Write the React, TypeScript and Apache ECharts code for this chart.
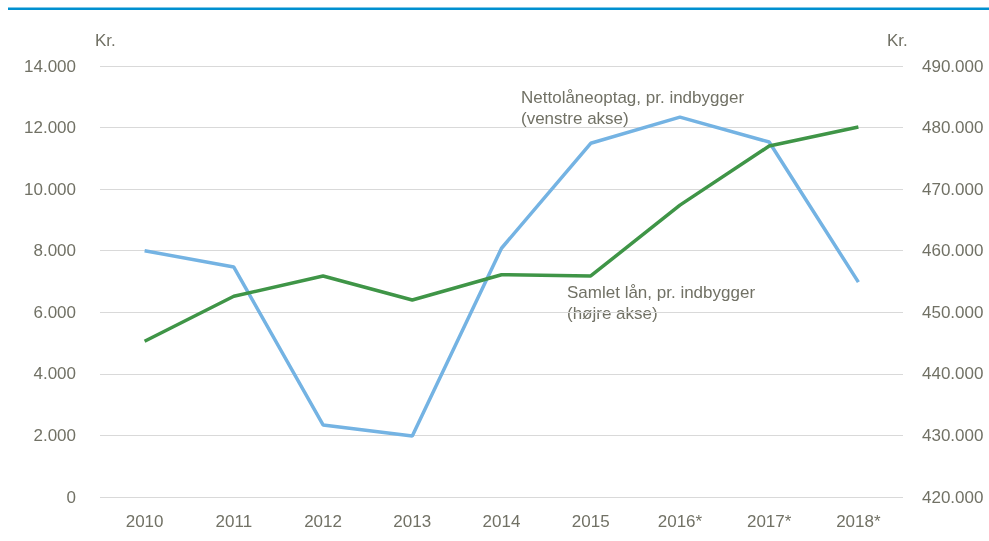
import React, { useEffect, useRef } from "react";
import * as echarts from "echarts";

const categories = ["2010", "2011", "2012", "2013", "2014", "2015", "2016*", "2017*", "2018*"];
const nettoLaaneoptag = [8000, 7470, 2340, 1980, 8080, 11490, 12340, 11530, 6980];
const samletLaan = [445300, 452600, 455900, 452000, 456100, 455900, 467400, 477000, 480100];

const TEXT = "#717165";
const FONT = "'Liberation Sans', Arial, sans-serif";

const fmt = (v: number) => {
  const s = Math.round(v).toString();
  return s.replace(/\B(?=(\d{3})+(?!\d))/g, ".");
};

export default function App() {
  const ref = useRef<HTMLDivElement>(null);
  useEffect(() => {
    if (!ref.current) return;
    const chart = echarts.init(ref.current, null, { renderer: "svg" });
    chart.setOption({
      animation: false,
      textStyle: { fontFamily: FONT },
      grid: { left: 100, right: 86, top: 66, bottom: 44, containLabel: false },
      graphic: [
        { type: "rect", shape: { x: 8, y: 7.5, width: 981, height: 2.5 }, style: { fill: "#0090d0" } },
        { type: "text", x: 95, y: 32, style: { text: "Kr.", fill: TEXT, font: `17px ${FONT}` } },
        { type: "text", x: 887, y: 32, style: { text: "Kr.", fill: TEXT, font: `17px ${FONT}` } },
        {
          type: "text", x: 521, y: 87,
          style: { text: "Nettolåneoptag, pr. indbygger\n(venstre akse)", fill: TEXT, font: `17px ${FONT}`, lineHeight: 21 },
        },
        {
          type: "text", x: 567, y: 282,
          style: { text: "Samlet lån, pr. indbygger\n(højre akse)", fill: TEXT, font: `17px ${FONT}`, lineHeight: 21 },
        },
      ],
      xAxis: {
        type: "category",
        data: categories,
        boundaryGap: true,
        axisLine: { show: false },
        axisTick: { show: false },
        axisLabel: { color: TEXT, fontSize: 17, fontFamily: FONT, margin: 16 },
      },
      yAxis: [
        {
          type: "value",
          min: 0,
          max: 14000,
          interval: 2000,
          axisLine: { show: false },
          axisTick: { show: false },
          splitLine: { lineStyle: { color: "#d9d9d9", width: 1 } },
          axisLabel: { color: TEXT, fontSize: 17, fontFamily: FONT, margin: 24, formatter: fmt },
        },
        {
          type: "value",
          min: 420000,
          max: 490000,
          interval: 10000,
          position: "right",
          axisLine: { show: false },
          axisTick: { show: false },
          splitLine: { show: false },
          axisLabel: { color: TEXT, fontSize: 17, fontFamily: FONT, margin: 19, formatter: fmt },
        },
      ],
      series: [
        {
          type: "line",
          data: nettoLaaneoptag,
          yAxisIndex: 0,
          symbol: "none",
          lineStyle: { color: "#74b3e3", width: 3.5 },
          itemStyle: { color: "#74b3e3" },
        },
        {
          type: "line",
          data: samletLaan,
          yAxisIndex: 1,
          symbol: "none",
          lineStyle: { color: "#3f9547", width: 3.5 },
          itemStyle: { color: "#3f9547" },
        },
      ],
    });
    return () => chart.dispose();
  }, []);
  return <div ref={ref} style={{ position: "fixed", left: 0, top: 0, width: 989, height: 541 }} />;
}
